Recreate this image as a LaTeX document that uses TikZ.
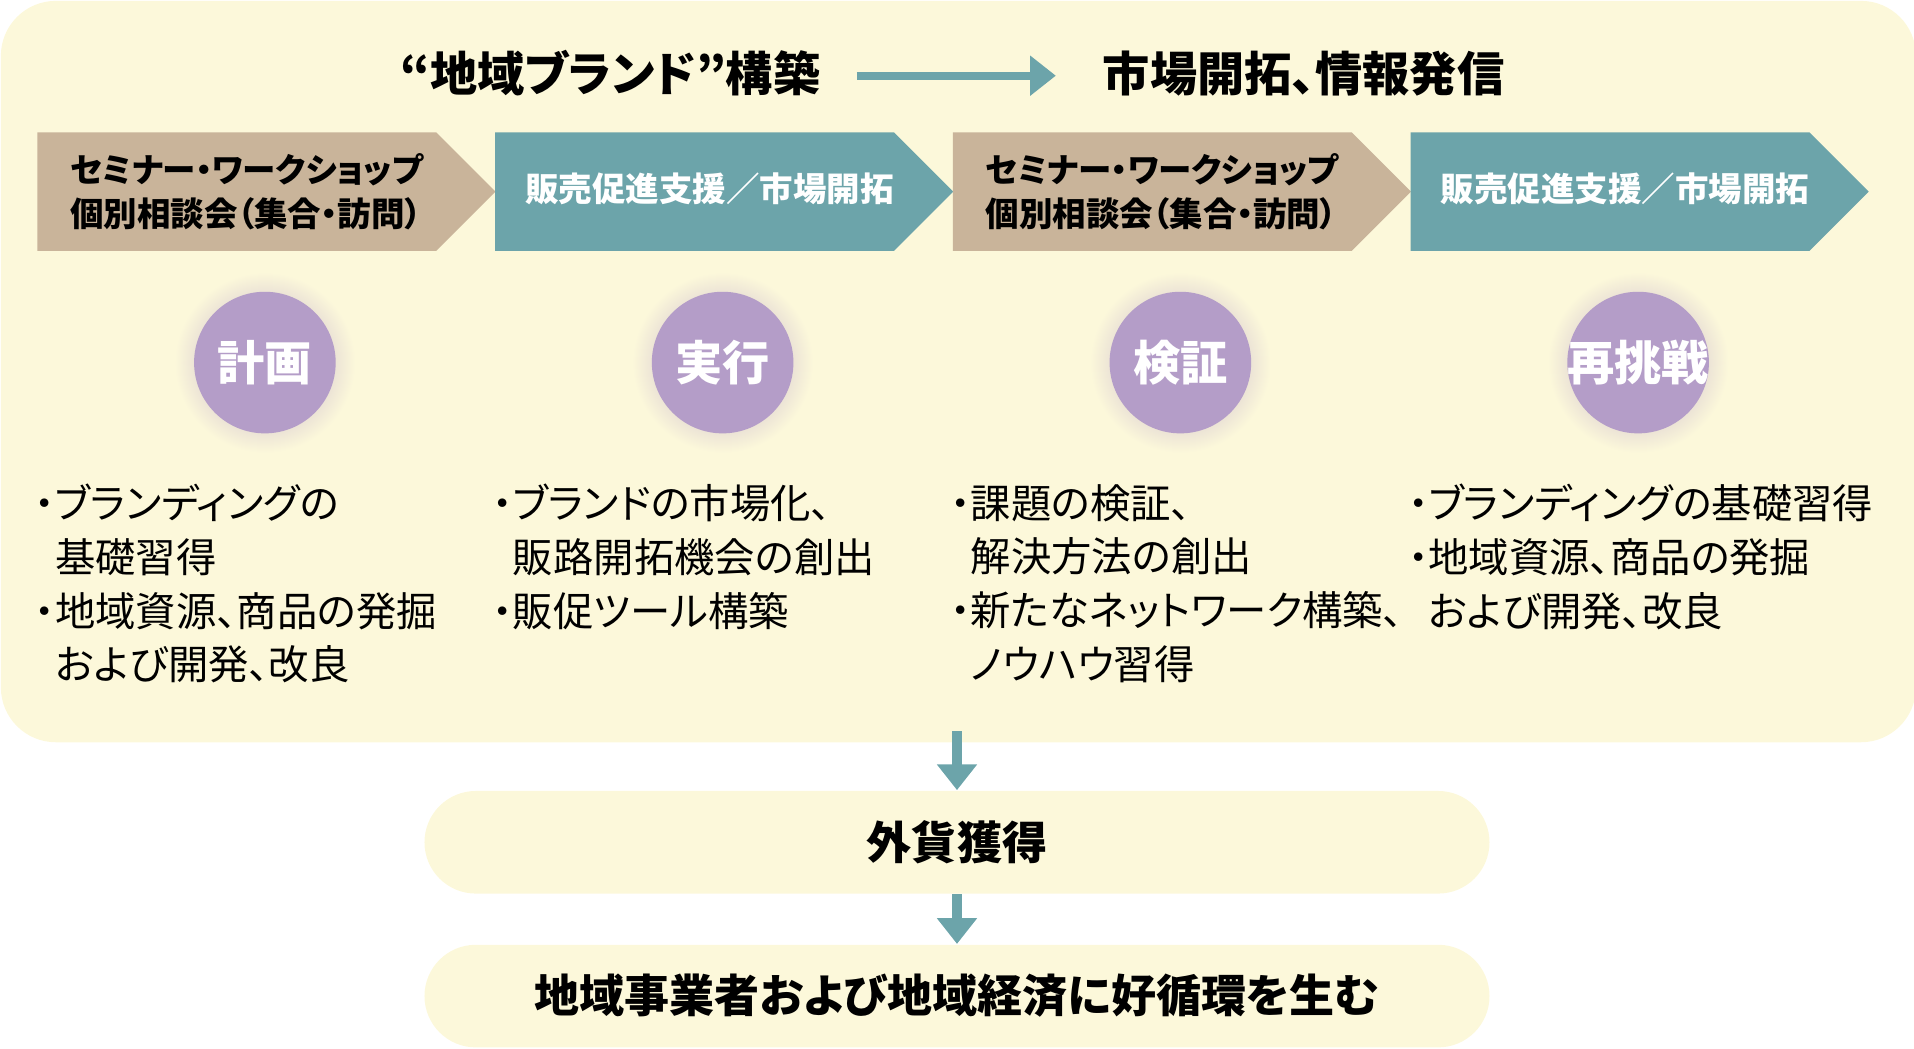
\documentclass[tikz,border=0pt]{standalone}
\usepackage{fontspec}
\setmainfont[RawFeature=+palt]{Noto Sans CJK JP}
\usetikzlibrary{arrows.meta, shapes.symbols}
\definecolor{bgyellow}{HTML}{FCF8DA}
\definecolor{tan}{HTML}{C9B49A}
\definecolor{teal}{HTML}{6CA4AA}
\definecolor{lilac}{HTML}{B49DC8}
\tikzstyle{chevtan} = [signal, signal to=east, signal pointer angle=90,
minimum width=3.75cm, minimum height=0.97cm, fill=tan, inner sep=0pt,
text=black!85, font=\fontsize{7.8}{10}\selectfont\bfseries, align=left]
\tikzstyle{chevteal} = [chevtan, fill=teal, text=white]
\tikzstyle{chevtext} = [anchor=west, align=left,
font=\fontsize{7.8}{10.3}\selectfont\bfseries]
\tikzstyle{stage} = [circle, minimum size=1.45cm, text=white,
font=\fontsize{11}{12}\selectfont\bfseries]
\tikzstyle{points} = [anchor=north west, align=left, inner sep=0pt,
font=\fontsize{9.4}{12.5}\selectfont]
\tikzstyle{pill} = [rounded corners=0.42cm, fill=bgyellow, minimum width=8.72cm,
minimum height=0.84cm, font=\fontsize{10.5}{12}\selectfont\bfseries]
\tikzstyle{arrow} = [line width=2.2pt, teal, -{Triangle[length=6pt,width=9pt]}]

\begin{document}
\begin{tikzpicture}[x=0.01cm, y=-0.01cm]
\useasboundingbox (0,0) rectangle (1568,859);

\node (bg) [rounded corners=0.45cm, fill=bgyellow, minimum width=15.68cm,
minimum height=6.07cm, anchor=north west, inner sep=0pt] at (0,0) {};

\node (brand) [font=\fontsize{11}{13}\selectfont\bfseries] at (500,60) {“地域ブランド”構築};
\node (market) [font=\fontsize{11}{13}\selectfont\bfseries] at (1068,60) {市場開拓、情報発信};
\draw [arrow, line width=1.8pt] (702,62) -- (865,62);

\node (c1) [chevtan, anchor=west] at (30,157) {};
\node [chevtext] at (45,157) {セミナー・ワークショップ\\個別相談会（集合・訪問）};
\node (c2) [chevteal, anchor=west] at (405,157) {};
\node [chevtext, text=white] at (418,155) {販売促進支援／市場開拓};
\node (c3) [chevtan, anchor=west] at (780,157) {};
\node [chevtext] at (795,157) {セミナー・ワークショップ\\個別相談会（集合・訪問）};
\node (c4) [chevteal, anchor=west] at (1155,157) {};
\node [chevtext, text=white] at (1168,155) {販売促進支援／市場開拓};

% stage circles
\foreach \x/\name/\txt in {217/plan/計画, 592/do/実行, 967/check/検証, 1342/retry/再挑戦}{
  \shade [inner color=lilac, outer color=bgyellow] (\x,297) circle (74);
  \fill [lilac] (\x,297) circle (58);
  \node (\name) [stage] at (\x,297) {\txt};
}

\node (p1) [points] at (28,396) {・ブランディングの\\\phantom{・}基礎習得\\・地域資源、商品の発掘\\\phantom{・}および開発、改良};
\node (p2) [points] at (403,396) {・ブランドの市場化、\\\phantom{・}販路開拓機会の創出\\・販促ツール構築};
\node (p3) [points] at (778,396) {・課題の検証、\\\phantom{・}解決方法の創出\\・新たなネットワーク構築、\\\phantom{・}ノウハウ習得};
\node (p4) [points] at (1153,396) {・ブランディングの基礎習得\\・地域資源、商品の発掘\\\phantom{・}および開発、改良};

\node (gain) [pill] at (784,690) {外貨獲得};
\node (cycle) [pill] at (784,816) {地域事業者および地域経済に好循環を生む};

\draw [arrow] (784,599) -- (gain.north);
\draw [arrow] (gain.south) -- (cycle.north);
\end{tikzpicture}
\end{document}
